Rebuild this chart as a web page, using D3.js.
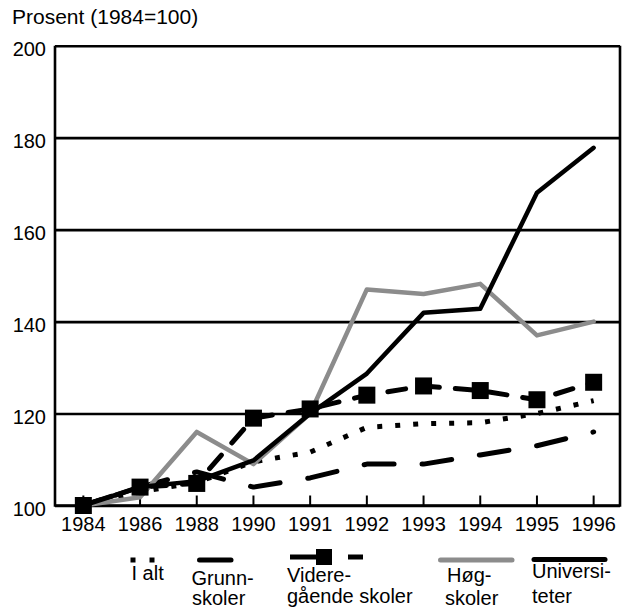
<!DOCTYPE html>
<html>
<head>
<meta charset="utf-8">
<script src="https://cdn.jsdelivr.net/npm/d3@7"></script>
<style>
  html, body { margin: 0; padding: 0; background: #fff; }
  svg { display: block; font-family: "Liberation Sans", Arial, sans-serif; }
</style>
</head>
<body>
<svg id="chart" width="623" height="609"></svg>
<script>
// data
const years = ['1984', '1986', '1988', '1990', '1991', '1992', '1993', '1994', '1995', '1996'];
const iAlt          = [100, 103, 105, 109.5, 111.6, 117, 117.8, 118, 120, 122.8];
const grunnskoler   = [100, 104, 107.3, 104, 106, 109, 109, 111, 113, 116];
const videregaende  = [100, 104, 104.8, 119, 121, 124, 126, 125, 123, 126.8];
const hogskoler     = [100, 101.8, 116, 109, 120, 147, 146, 148.2, 137, 140];
const universiteter = [100, 104, 105.3, 109.8, 120, 128.7, 141.9, 142.8, 168, 177.8];
const yTicks = [100, 120, 140, 160, 180, 200];

const svg = d3.select('#chart');
const plotLeft = 55, plotRight = 620, plotTop = 45.7, plotBottom = 505.5;

const x = d3.scaleBand().domain(years).range([plotLeft, 622]);
const cx = d => x(d) + x.bandwidth() / 2;
const y = d3.scaleLinear().domain([100, 200]).range([plotBottom, plotTop]);

// y axis with gridlines
const yAxis = svg.append('g')
  .attr('transform', `translate(${plotLeft},0)`)
  .call(d3.axisLeft(y).tickValues(yTicks).tickSizeInner(-(plotRight - plotLeft)).tickSizeOuter(0).tickPadding(9));
yAxis.select('.domain').remove();
yAxis.selectAll('line').attr('stroke', '#000').attr('stroke-width', 2.6);
yAxis.selectAll('text')
  .attr('dy', 10).attr('font-size', 20).attr('fill', '#000');

// x axis, ticks pointing up
const xAxis = svg.append('g')
  .attr('transform', `translate(0,${plotBottom})`)
  .call(d3.axisBottom(x).tickSizeInner(-10).tickSizeOuter(0).tickPadding(11));
xAxis.select('.domain').remove();
xAxis.selectAll('line').attr('stroke', '#000').attr('stroke-width', 2);
xAxis.selectAll('text').attr('font-size', 20).attr('fill', '#000');

// frame
svg.append('path')
  .attr('d', `M${plotLeft},${plotTop}V${plotBottom}H${plotRight}V${plotTop}`)
  .attr('fill', 'none').attr('stroke', '#000').attr('stroke-width', 2.6);

svg.append('text')
  .attr('x', 12).attr('y', 24)
  .attr('font-size', 21)
  .text('Prosent (1984=100)');

const line = d3.line().x((d, i) => cx(years[i])).y(d => y(d));

const series = [
  { values: grunnskoler, stroke: '#000', width: 5, dash: '30,28', cap: 'round' },
  { values: iAlt, stroke: '#000', width: 5, dash: '5,13', cap: 'butt' },
  { values: videregaende, stroke: '#000', width: 5, dash: '18,16', cap: 'round' },
  { values: hogskoler, stroke: '#8c8c8c', width: 4.5, dash: null, cap: 'round' },
  { values: universiteter, stroke: '#000', width: 4.5, dash: null, cap: 'round' }
];

series.forEach(s => {
  svg.append('path')
    .datum(s.values)
    .attr('d', line)
    .attr('fill', 'none')
    .attr('stroke', s.stroke)
    .attr('stroke-width', s.width)
    .attr('stroke-dasharray', s.dash)
    .attr('stroke-linecap', s.cap)
    .attr('stroke-linejoin', 'round');
});

// markers on videregående skoler
const sq = 17;
svg.append('g').selectAll('rect')
  .data(videregaende)
  .join('rect')
  .attr('x', (d, i) => cx(years[i]) - sq / 2)
  .attr('y', d => y(d) - sq / 2)
  .attr('width', sq).attr('height', sq)
  .attr('fill', '#000');

// legend
const lg = svg.append('g');
lg.append('line').attr('x1', 130.5).attr('x2', 155).attr('y1', 560).attr('y2', 560)
  .attr('stroke', '#000').attr('stroke-width', 5).attr('stroke-dasharray', '5,14');
lg.append('line').attr('x1', 199.5).attr('x2', 231).attr('y1', 560).attr('y2', 560)
  .attr('stroke', '#000').attr('stroke-width', 5).attr('stroke-linecap', 'round');
lg.append('line').attr('x1', 290).attr('x2', 363).attr('y1', 557).attr('y2', 557)
  .attr('stroke', '#000').attr('stroke-width', 5).attr('stroke-dasharray', '34,24,15,100');
lg.append('rect').attr('x', 316).attr('y', 549).attr('width', 16).attr('height', 16).attr('fill', '#000');
lg.append('line').attr('x1', 440.5).attr('x2', 512).attr('y1', 560).attr('y2', 560)
  .attr('stroke', '#8c8c8c').attr('stroke-width', 5).attr('stroke-linecap', 'round');
lg.append('line').attr('x1', 534).attr('x2', 605).attr('y1', 559.5).attr('y2', 559.5)
  .attr('stroke', '#000').attr('stroke-width', 5).attr('stroke-linecap', 'round');

const legendText = [
  { x: 131.5, y: 580, t: 'I alt' },
  { x: 191.5, y: 585, t: 'Grunn-' },
  { x: 192, y: 605, t: 'skoler' },
  { x: 287, y: 582, t: 'Videre-' },
  { x: 287, y: 603, t: 'gående skoler' },
  { x: 447, y: 582, t: 'Høg-' },
  { x: 445, y: 605, t: 'skoler' },
  { x: 532, y: 578, t: 'Universi-' },
  { x: 532, y: 603, t: 'teter' }
];
lg.selectAll('text')
  .data(legendText)
  .join('text')
  .attr('x', d => d.x).attr('y', d => d.y)
  .attr('font-size', 20)
  .text(d => d.t);
</script>
</body>
</html>
